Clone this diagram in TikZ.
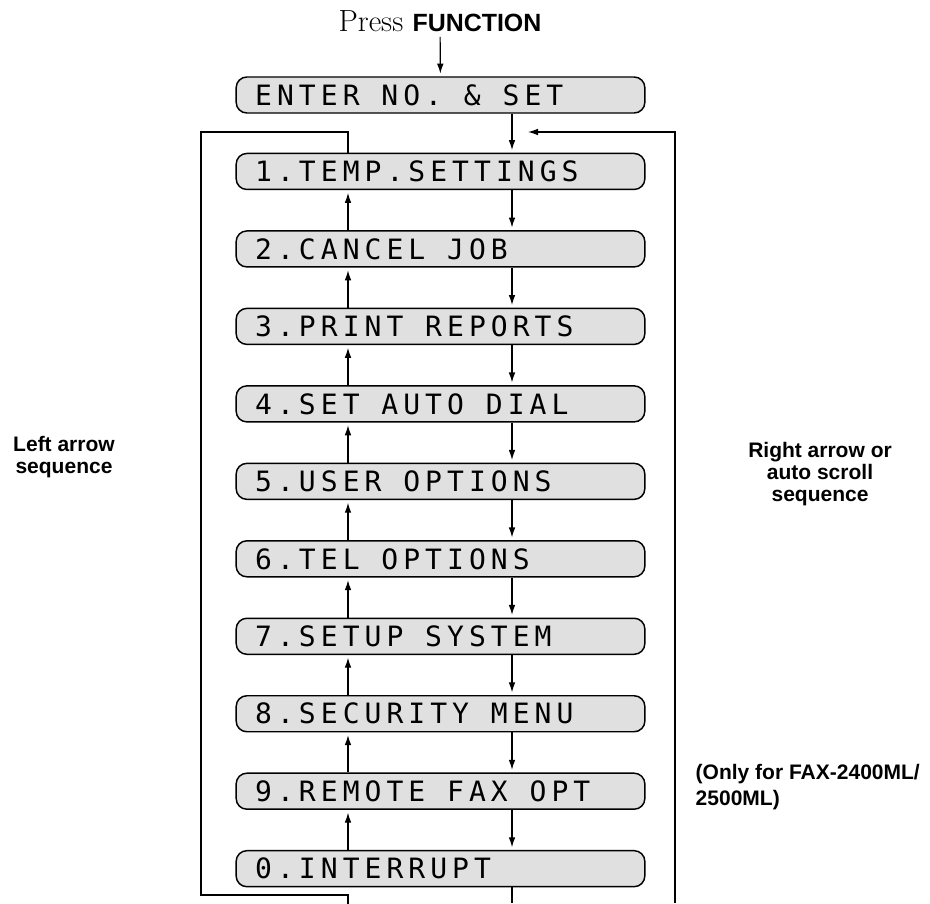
\documentclass[tikz,border=0pt]{standalone}
\usepackage{fontspec}
\setsansfont{Liberation Sans}
\newfontfamily\lcdfont[LetterSpace=18]{DejaVu Sans Mono}
\newcommand{\lcdgap}{\hspace{16.4pt}}
\usetikzlibrary{arrows.meta, positioning}

\begin{document}
\begin{tikzpicture}[
  x=0.75pt, y=-0.75pt,
  node distance=30pt,
  menu/.style={draw, line width=1.1pt, rounded corners=8pt, fill=black!12, minimum height=27pt, text width=278pt, inner xsep=14.25pt, inner ysep=0pt, align=left, font=\lcdfont\fontsize{21}{23}\selectfont},
  note/.style={font=\sffamily\bfseries\fontsize{15.75}{16.5}\selectfont, align=center},
  arrow/.style={-{Latex[length=7.5pt,width=5pt]}, line width=0.9pt, shorten >=2pt},
  link/.style={line width=0.9pt}
]
  \useasboundingbox (0,0) rectangle (930,903);

  \node (press) at (440,21.5) {\fontsize{23}{26}\selectfont Press \sffamily\bfseries\fontsize{18.7}{22}\selectfont FUNCTION};
  \node[menu] (enter) at (440.5,95) {ENTER\lcdgap NO.\lcdgap\&\lcdgap SET};
  \node[menu, below=29.25pt of enter] (temp) {1.TEMP.SETTINGS};
  \node[menu, below=of temp] (cancel) {2.CANCEL\lcdgap JOB};
  \node[menu, below=of cancel] (print) {3.PRINT\lcdgap REPORTS};
  \node[menu, below=of print] (dial) {4.SET\lcdgap AUTO\lcdgap DIAL};
  \node[menu, below=of dial] (user) {5.USER\lcdgap OPTIONS};
  \node[menu, below=of user] (tel) {6.TEL\lcdgap OPTIONS};
  \node[menu, below=of tel] (setup) {7.SETUP\lcdgap SYSTEM};
  \node[menu, below=of setup] (secur) {8.SECURITY\lcdgap MENU};
  \node[menu, below=of secur] (remote) {9.REMOTE\lcdgap FAX\lcdgap OPT};
  \node[menu, below=of remote] (intr) {0.INTERRUPT};

  \node[note] (leftseq) at (64,457) {Left arrow\\sequence};
  \node[note] (rightseq) at (820,474) {Right arrow or\\auto scroll\\sequence};
  \node[note, align=left, anchor=west, font=\sffamily\bfseries\fontsize{15.75}{19.5}\selectfont] (only) at (691,787) {(Only for FAX-2400ML/\\2500ML)};

  % columns and loop corners
  \coordinate (lcol) at (348,0);
  \coordinate (rcol) at (512,0);
  \coordinate (lt) at (201,132);
  \coordinate (lb) at (201,895);
  \coordinate (rt) at (675,132);
  \coordinate (rb) at (675,903);
  \coordinate (rin) at (528,132);

  \draw[arrow] (press) -- (enter);
  \draw[arrow] (enter.south -| rcol) -- (temp.north -| rcol);

  % right arrow
  \draw[arrow] (temp.south -| rcol) -- (cancel.north -| rcol);
  \draw[arrow] (cancel.south -| rcol) -- (print.north -| rcol);
  \draw[arrow] (print.south -| rcol) -- (dial.north -| rcol);
  \draw[arrow] (dial.south -| rcol) -- (user.north -| rcol);
  \draw[arrow] (user.south -| rcol) -- (tel.north -| rcol);
  \draw[arrow] (tel.south -| rcol) -- (setup.north -| rcol);
  \draw[arrow] (setup.south -| rcol) -- (secur.north -| rcol);
  \draw[arrow] (secur.south -| rcol) -- (remote.north -| rcol);
  \draw[arrow] (remote.south -| rcol) -- (intr.north -| rcol);

  % left arrow
  \draw[arrow] (cancel.north -| lcol) -- (temp.south -| lcol);
  \draw[arrow] (print.north -| lcol) -- (cancel.south -| lcol);
  \draw[arrow] (dial.north -| lcol) -- (print.south -| lcol);
  \draw[arrow] (user.north -| lcol) -- (dial.south -| lcol);
  \draw[arrow] (tel.north -| lcol) -- (user.south -| lcol);
  \draw[arrow] (setup.north -| lcol) -- (tel.south -| lcol);
  \draw[arrow] (secur.north -| lcol) -- (setup.south -| lcol);
  \draw[arrow] (remote.north -| lcol) -- (secur.south -| lcol);
  \draw[arrow] (intr.north -| lcol) -- (remote.south -| lcol);

  % wrap round
  \draw[arrow, shorten >=9pt] (temp.north -| lcol) |- (lt) -- (lb) -| (intr.south -| lcol);
  \draw[link] (intr.south -| rcol) -- (rcol |- rb);
  \draw[arrow, shorten >=0pt] (rb) -- (rt) -- (rin);
\end{tikzpicture}
\end{document}
